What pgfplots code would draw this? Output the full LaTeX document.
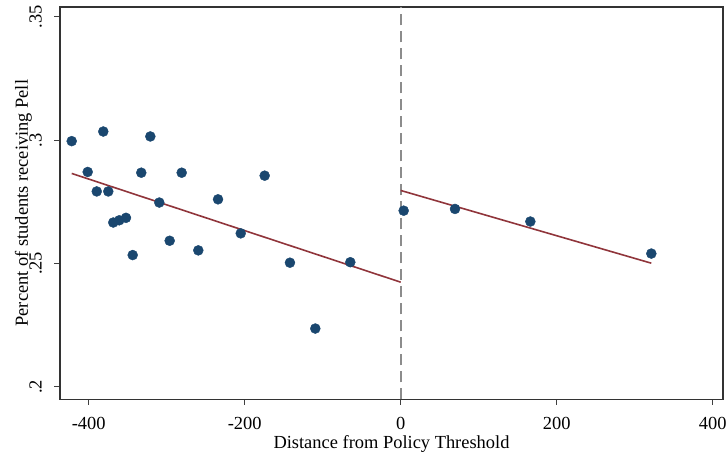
\documentclass[border=0pt]{standalone}
\usepackage{fontspec}
\setmainfont{Liberation Serif}
\usepackage{pgfplots}
\pgfplotsset{compat=1.18}
\usetikzlibrary{calc}
\definecolor{stnavy}{RGB}{26,71,111}
\definecolor{stmaroon}{RGB}{144,53,59}
\definecolor{stgray}{RGB}{140,140,140}
\begin{document}
\begin{tikzpicture}
\begin{axis}[
  scale only axis, width=663bp, height=392.3bp,
  xmin=-436.8, xmax=413.2, ymin=0.1949, ymax=0.354,
  xtick={-400,-200,0,200,400}, xticklabels={-400,-200,0,200,400},
  ytick={0.2,0.25,0.3,0.35}, yticklabels={.2,.25,.3,.35},
  tick align=outside, major tick length=5.5bp,
  xtick pos=bottom, ytick pos=left,
  axis line style={line width=1.1bp, black!80},
  tick style={line width=0.9bp, black!75},
  font=\fontsize{18.5}{21}\selectfont,
  /pgf/number format/assume math mode=true,
  xticklabel style={anchor=base},
  xticklabel shift=24.7bp,
  yticklabel style={rotate=90, anchor=south},
  yticklabel shift=9bp,
  every axis x label/.style={at={(axis description cs:0.5,-0.1249)}, anchor=base},
  every axis y label/.style={at={(axis description cs:-0.0483,0.5)}, anchor=base, rotate=90},
  xlabel={Distance from Policy Threshold},
  ylabel={Percent of students receiving Pell},
  clip=false,
]
\addplot[stgray, line width=1.8bp, dash pattern=on 11bp off 6bp] coordinates {(0,0.1949) (0,0.354)};
\addplot[only marks, mark=*, mark size=5bp, mark options={fill=stnavy, draw=stnavy}] coordinates {
(-421.8,0.2996) (-401.3,0.2871) (-389.7,0.2792) (-381.3,0.3035) (-374.9,0.2792)
(-368.5,0.2666) (-360.8,0.2675) (-352.2,0.2685) (-343.6,0.2534) (-332.6,0.2868)
(-321.0,0.3015) (-309.5,0.2747) (-296.2,0.2592) (-280.8,0.2868) (-259.5,0.2553)
(-234.2,0.2760) (-205.1,0.2622) (-174.4,0.2856) (-142.0,0.2503) (-109.5,0.2236)
(-64.6,0.2505) (3.8,0.2714) (69.6,0.2721) (166.2,0.2670) (321.3,0.2540)
};
\addplot[stmaroon, line width=1.6bp] coordinates {(-421.8,0.2865) (0,0.2424)};
\addplot[stmaroon, line width=1.6bp] coordinates {(0,0.2796) (321.3,0.2501)};
\end{axis}
\pgfresetboundingbox
\path[use as bounding box] ($(current axis.south west)+(-60bp,-54.7bp)$) rectangle ($(current axis.north east)+(3bp,7bp)$);
\end{tikzpicture}
\end{document}
